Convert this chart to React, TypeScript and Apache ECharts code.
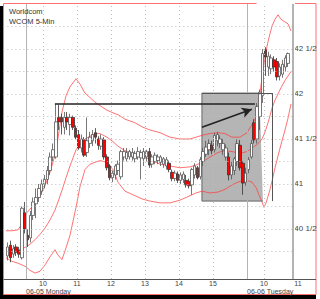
import { useEffect, useRef } from "react";
import * as echarts from "echarts";

const TITLE = "Worldcom";
const SUBTITLE = "WCOM 5-Min";

// bar index 0 = 06-05 09:30; bars run from FIRST_BAR
const FIRST_BAR = -7;
const OPEN = [
  40.20, 40.32, 40.22, 40.30, 40.26, 40.18, 40.68,
  40.43, 40.40, 40.65, 40.78, 40.85, 40.92, 41.00, 41.05, 41.15, 41.30,
  41.30, 41.74, 41.74, 41.63, 41.74, 41.66, 41.74, 41.62, 41.55, 41.40,
  41.49, 41.35, 41.45, 41.48, 41.57, 41.50, 41.42, 41.49, 41.30, 41.20,
  41.07, 41.10, 41.15, 41.08, 41.30, 41.28, 41.30, 41.30, 41.28, 41.30,
  41.29, 41.28, 41.30, 41.36, 41.22, 41.25, 41.26, 41.24, 41.22, 41.20,
  41.23, 41.13, 41.06, 41.11, 41.04, 41.05, 41.04, 41.03, 40.99, 41.10,
  41.18, 41.08, 41.25, 41.33, 41.38, 41.43, 41.38, 41.48, 41.45, 41.38,
  41.30, 41.30, 41.10, 41.15, 41.25, 41.43, 41.23, 41.02, 41.16, 41.30,
  41.68, 41.50, 41.75, 41.98, 42.49, 42.30, 42.28, 42.38, 42.36, 42.20,
  42.22, 42.30, 42.34,
];
const CLOSE = [
  40.30, 40.18, 40.28, 40.24, 40.22, 40.73, 40.50,
  40.38, 40.65, 40.80, 40.85, 40.95, 41.00, 41.05, 41.15, 41.30, 41.38,
  41.69, 41.69, 41.69, 41.74, 41.69, 41.74, 41.63, 41.52, 41.40, 41.50,
  41.32, 41.48, 41.52, 41.55, 41.52, 41.43, 41.50, 41.30, 41.18, 41.07,
  41.12, 41.20, 41.22, 41.36, 41.36, 41.35, 41.36, 41.35, 41.34, 41.36,
  41.35, 41.36, 41.36, 41.21, 41.30, 41.32, 41.30, 41.30, 41.28, 41.27,
  41.16, 41.06, 41.12, 41.04, 41.10, 41.11, 40.99, 40.98, 41.16, 41.20,
  41.07, 41.27, 41.36, 41.41, 41.45, 41.37, 41.54, 41.55, 41.50, 41.45,
  41.40, 41.10, 41.20, 41.28, 41.45, 41.18, 41.01, 41.12, 41.27, 41.45,
  41.49, 41.86, 42.02, 42.45, 42.41, 42.42, 42.40, 42.30, 42.19, 42.30,
  42.33, 42.40, 42.45,
];
const LOW = [
  40.15, 40.13, 40.18, 40.20, 40.18, 40.16, 40.45,
  40.30, 40.35, 40.60, 40.62, 40.80, 40.88, 40.95, 41.00, 41.10, 41.25,
  41.28, 41.60, 41.55, 41.55, 41.60, 41.54, 41.60, 41.50, 41.38, 41.35,
  41.30, 41.30, 41.40, 41.42, 41.45, 41.38, 41.38, 41.27, 41.15, 41.04,
  41.02, 41.05, 41.10, 41.05, 41.26, 41.25, 41.27, 41.26, 41.24, 41.27,
  41.05, 41.20, 41.25, 41.18, 41.18, 41.22, 41.22, 41.20, 41.18, 41.16,
  41.13, 41.03, 41.03, 41.01, 41.00, 41.01, 40.96, 40.95, 40.88, 41.06,
  41.05, 41.05, 41.20, 41.30, 41.32, 41.33, 41.35, 41.42, 41.40, 41.32,
  41.26, 41.04, 41.05, 41.10, 41.20, 41.15, 40.88, 40.98, 41.12, 41.28,
  41.45, 41.45, 41.60, 41.90, 42.20, 42.20, 42.22, 42.25, 42.15, 42.15,
  42.18, 42.25, 42.30,
];
const HIGH = [
  40.35, 40.37, 40.32, 40.33, 40.30, 40.75, 40.80,
  40.50, 40.70, 40.85, 40.95, 41.00, 41.05, 41.10, 41.20, 41.35, 41.45,
  41.89, 41.88, 41.78, 41.80, 41.80, 41.78, 41.76, 41.65, 41.60, 41.55,
  41.52, 41.74, 41.58, 41.60, 41.62, 41.53, 41.55, 41.52, 41.33, 41.22,
  41.15, 41.22, 41.26, 41.38, 41.40, 41.40, 41.38, 41.40, 41.37, 41.41,
  41.38, 41.40, 41.38, 41.40, 41.33, 41.35, 41.33, 41.32, 41.30, 41.30,
  41.26, 41.16, 41.15, 41.14, 41.13, 41.14, 41.10, 41.06, 41.18, 41.23,
  41.20, 41.30, 41.40, 41.48, 41.50, 41.48, 41.57, 41.58, 41.54, 41.50,
  41.44, 41.35, 41.25, 41.30, 41.50, 41.49, 41.25, 41.18, 41.30, 41.50,
  41.72, 41.90, 42.05, 42.50, 42.52, 42.47, 42.44, 42.42, 42.40, 42.34,
  42.38, 42.43, 42.46,
];

// Bollinger bands, read at these times (in bar units from 06-05 09:30)
const BAND_T = [
  -7.06, -4.94, -2.82, -1.41, 0, 1.41, 3.18, 4.94, 6.71, 8.47,
  10.24, 11.29, 12.71, 14.12, 15.53, 17.65, 19.06, 20.82, 22.59, 24.35,
  26.12, 28.59, 30.71, 32.47, 34.94, 38.47, 41.29, 43.76, 47.29, 50.82,
  54.35, 57.88, 60.0, 62.1, 64.94, 67.76, 70.24, 72.71, 75.53, 78.0,
  79.76, 81.18, 82.24, 83.29, 84.0, 84.71, 85.41, 86.12, 86.9, 87.88,
  88.94, 90.0, 91.41, 92.47, 93.53,
];
const UPPER = [
  40.48, 40.48, 40.49, 40.56, 40.67, 40.72, 40.78, 40.87, 40.98, 41.13,
  41.32, 41.51, 41.80, 41.98, 42.08, 42.17, 42.11, 42.01, 41.96, 41.91,
  41.87, 41.82, 41.79, 41.77, 41.72, 41.68, 41.63, 41.60, 41.57, 41.52,
  41.50, 41.50, 41.52, 41.54, 41.56, 41.57, 41.56, 41.52, 41.52, 41.57,
  41.66, 41.74, 41.93, 42.18, 42.33, 42.47, 42.58, 42.67, 42.76, 42.83,
  42.88, 42.83, 42.80, 42.78, 42.70,
];
const MIDDLE = [
  40.27, 40.27, 40.27, 40.28, 40.30, 40.33, 40.38, 40.44, 40.51, 40.60,
  40.71, 40.80, 40.93, 41.07, 41.20, 41.38, 41.44, 41.50, 41.53, 41.56,
  41.56, 41.52, 41.47, 41.42, 41.37, 41.33, 41.31, 41.27, 41.22, 41.20,
  41.18, 41.19, 41.21, 41.24, 41.30, 41.35, 41.37, 41.36, 41.34, 41.36,
  41.40, 41.43, 41.46, 41.50, 41.55, 41.61, 41.68, 41.76, 41.85, 41.93,
  42.00, 42.07, 42.15, 42.20, 42.25,
];
const LOWER = [
  40.18, 40.14, 40.12, 40.10, 40.08, 40.04, 40.01, 40.03, 40.10, 40.19,
  40.27, 40.21, 40.16, 40.29, 40.43, 40.74, 40.97, 41.16, 41.22, 41.24,
  41.26, 41.24, 41.16, 41.02, 40.92, 40.87, 40.83, 40.81, 40.79, 40.79,
  40.82, 40.87, 40.90, 40.92, 40.90, 40.91, 40.94, 40.99, 41.03, 41.04,
  41.02, 40.96, 40.88, 40.80, 40.74, 40.79, 40.86, 40.94, 41.04, 41.18,
  41.31, 41.44, 41.60, 41.73, 41.89,
];

// annotations
const LEVEL = 41.89;
const LEVEL_T = [10.2, 80.8];
const ARROW_FROM = [62.1, 41.63];
const ARROW_TO = [79.7, 41.83];
const BOX_T = [62.1, 86.9];
const BOX_P = [42.01, 40.81];

// axes
const HOUR_TICKS = [6, 18, 30, 42, 54, 66, 84, 96];
const HOUR_LABELS = ["10", "11", "12", "13", "14", "15", "10", "11"];
const DAY_TICKS = [0, 78];
const DAY_LABELS = ["06-05 Monday", "06-06 Tuesday"];
const Y_TICKS = [40.5, 41, 41.5, 42, 42.5];
const Y_LABELS = ["40 1/2", "41", "41 1/2", "42", "42 1/2"];
const Y_GRID = [40.25, 40.5, 40.75, 41, 41.25, 41.5, 41.75, 42, 42.25, 42.5, 42.75];
const T_MIN = -8;
const T_END = 94;
const T_LABEL_END = 96;
const P_MIN = 39.944;
const P_MAX = 43;

const FONT = "Liberation Sans, Arial, sans-serif";

export default function App() {
  const ref = useRef<HTMLDivElement>(null);
  useEffect(() => {
    if (!ref.current) return;
    const chart = echarts.init(ref.current, null, { renderer: "svg" });
    const W = 320;
    const H = 299;
    const S = 221 / 78; // px per bar
    const X0 = 26;
    const gridLeft = X0 + T_MIN * S;
    const grid0Right = W - (X0 + T_END * S);
    const grid1Right = W - (X0 + T_LABEL_END * S);

    const nCats = T_END - T_MIN;
    const cats = Array.from({ length: nCats }, (_, k) => String(k + T_MIN));
    const candles = cats.map((_, k) => {
      const i = k + T_MIN - FIRST_BAR;
      if (i < 0 || i >= OPEN.length) return "-";
      return [OPEN[i], CLOSE[i], LOW[i], HIGH[i]];
    });

    const band = (vals: number[]) => BAND_T.map((t, k) => [t, vals[k]]);
    const fillIdx = BAND_T.map((t, k) => k).filter(
      (k) => BAND_T[k] >= BOX_T[0] && BAND_T[k] <= BOX_T[1]
    );
    const fillBase = fillIdx.map((k) => [BAND_T[k], LOWER[k]]);
    const fillTop = fillIdx.map((k) => [BAND_T[k], UPPER[k] - LOWER[k]]);

    const dotted = { type: [1, 3] as any, color: "#bdbdbd", width: 1 };

    const gridMarks: any[] = [
      ...Y_GRID.map((v) => ({ yAxis: v, lineStyle: dotted })),
      ...HOUR_TICKS.filter((v) => v < T_END).map((v) => ({ xAxis: v, lineStyle: dotted })),
      ...DAY_TICKS.map((v) => ({
        xAxis: v,
        lineStyle: { type: "solid", color: "#b4b4b4", width: 1 },
      })),
      { xAxis: T_END, lineStyle: { type: "solid", color: "#9a9a9a", width: 1.5 } },
    ];

    const bandLine = (name: string, vals: number[]) => ({
      name,
      type: "line",
      xAxisIndex: 1,
      yAxisIndex: 0,
      data: band(vals),
      symbol: "none",
      silent: true,
      z: 3,
      lineStyle: { color: "#ff3b3b", width: 0.9, opacity: 0.8 },
    });

    const labelAxis = (ticks: number[], labels: string[], margin: number, align?: string) => ({
      type: "value",
      gridIndex: 1,
      position: "bottom",
      offset: 0,
      min: T_MIN,
      max: T_LABEL_END,
      axisLine: { show: false, onZero: false },
      axisTick: { show: false },
      splitLine: { show: false },
      axisLabel: {
        customValues: ticks,
        formatter: (v: number) => labels[ticks.indexOf(v)] ?? "",
        fontSize: 7,
        lineHeight: 7,
        fontFamily: FONT,
        color: "#444",
        margin,
        align,
        showMaxLabel: true,
        showMinLabel: true,
      },
    });

    chart.setOption({
      animation: false,
      grid: [
        { left: gridLeft, right: grid0Right, top: 4, bottom: 20, outerBoundsMode: "none", containLabel: false },
        { left: gridLeft, right: grid1Right, top: 4, bottom: 20, outerBoundsMode: "none", containLabel: false },
      ],
      xAxis: [
        { type: "category", gridIndex: 0, data: cats, boundaryGap: true, show: false },
        { type: "value", gridIndex: 0, min: T_MIN, max: T_END, show: false },
        labelAxis(HOUR_TICKS, HOUR_LABELS, 1),
        labelAxis(DAY_TICKS, DAY_LABELS, 8.5, "left"),
      ],
      yAxis: [
        {
          type: "value",
          gridIndex: 0,
          position: "right",
          min: P_MIN,
          max: P_MAX,
          axisLine: { show: false },
          axisTick: { show: false },
          splitLine: { show: false },
          axisLabel: {
            customValues: Y_TICKS,
            formatter: (v: number) => Y_LABELS[Y_TICKS.indexOf(v)] ?? "",
            fontSize: 8,
            fontFamily: FONT,
            color: "#444",
            margin: 2,
            showMaxLabel: true,
            showMinLabel: true,
          },
        },
        { type: "value", gridIndex: 1, min: 0, max: 1, show: false },
      ],
      graphic: [
        {
          type: "rect",
          z: -20,
          shape: { x: 0, y: 6, width: 316, height: H - 6 },
          style: { fill: "#000" },
        },
        {
          type: "rect",
          z: -19,
          shape: { x: 3.5, y: 3.5, width: 312.5, height: 291 },
          style: { fill: "#fff", stroke: "#ff7070", lineWidth: 1 },
        },
        {
          type: "line",
          z: 50,
          shape: { x1: 3.5, y1: 279.5, x2: 316, y2: 279.5 },
          style: { stroke: "#555", lineWidth: 1 },
        },
        {
          type: "text",
          z: 50,
          x: 9,
          y: 7,
          style: { text: TITLE, fontSize: 7.5, fontFamily: FONT, fill: "#333" },
        },
        {
          type: "text",
          z: 50,
          x: 9,
          y: 17,
          style: { text: SUBTITLE, fontSize: 7.5, fontFamily: FONT, fill: "#333" },
        },
      ],
      series: [
        {
          name: "grid",
          type: "line",
          xAxisIndex: 1,
          yAxisIndex: 0,
          data: [],
          z: 1,
          silent: true,
          markLine: {
            silent: true,
            symbol: ["none", "none"],
            label: { show: false },
            animation: false,
            data: gridMarks,
          },
        },
        {
          name: "box",
          type: "line",
          xAxisIndex: 1,
          yAxisIndex: 0,
          data: [],
          z: 1,
          silent: true,
          markArea: {
            silent: true,
            itemStyle: { color: "#b5b5b5", borderColor: "#666", borderWidth: 1 },
            data: [[
              { xAxis: BOX_T[0], yAxis: BOX_P[0] },
              { xAxis: BOX_T[1], yAxis: BOX_P[1] },
            ]],
          },
        },
        {
          name: "fillBase",
          type: "line",
          xAxisIndex: 1,
          yAxisIndex: 0,
          stack: "fill",
          data: fillBase,
          symbol: "none",
          silent: true,
          z: 2,
          lineStyle: { opacity: 0 },
        },
        {
          name: "fillTop",
          type: "line",
          xAxisIndex: 1,
          yAxisIndex: 0,
          stack: "fill",
          data: fillTop,
          symbol: "none",
          silent: true,
          z: 2,
          lineStyle: { opacity: 0 },
          areaStyle: { color: "#ffffff", opacity: 1 },
        },
        {
          name: "boxEdge",
          type: "line",
          xAxisIndex: 1,
          yAxisIndex: 0,
          data: [],
          z: 3,
          silent: true,
          markLine: {
            silent: true,
            symbol: ["none", "none"],
            label: { show: false },
            lineStyle: { color: "#555", width: 1, type: "solid" },
            data: [
              [{ coord: [BOX_T[0], BOX_P[0]] }, { coord: [BOX_T[1], BOX_P[0]] }],
              [{ coord: [BOX_T[1], BOX_P[0]] }, { coord: [BOX_T[1], BOX_P[1]] }],
            ],
          },
        },
        bandLine("upper", UPPER),
        bandLine("middle", MIDDLE),
        bandLine("lower", LOWER),
        {
          name: "WCOM",
          type: "candlestick",
          xAxisIndex: 0,
          yAxisIndex: 0,
          data: candles,
          z: 4,
          barWidth: 3,
          silent: true,
          itemStyle: {
            color: "#ffffff",
            color0: "#ff0000",
            borderColor: "#555555",
            borderColor0: "#333333",
            borderWidth: 0.8,
          },
        },
        {
          name: "notes",
          type: "line",
          xAxisIndex: 1,
          yAxisIndex: 0,
          data: [],
          z: 5,
          silent: true,
          markLine: {
            silent: true,
            label: { show: false },
            lineStyle: { color: "#222", width: 1.5, type: "solid" },
            data: [
              [
                { coord: [LEVEL_T[0], LEVEL], symbol: "none" },
                { coord: [LEVEL_T[1], LEVEL], symbol: "none" },
              ],
              [
                { coord: ARROW_FROM, symbol: "none" },
                { coord: ARROW_TO, symbol: "arrow", symbolSize: [8, 10] },
              ],
            ],
          },
        },
      ],
    });
    return () => chart.dispose();
  }, []);
  return (
    <div
      ref={ref}
      style={{ position: "absolute", left: 0, top: 0, width: 320, height: 299 }}
    />
  );
}
